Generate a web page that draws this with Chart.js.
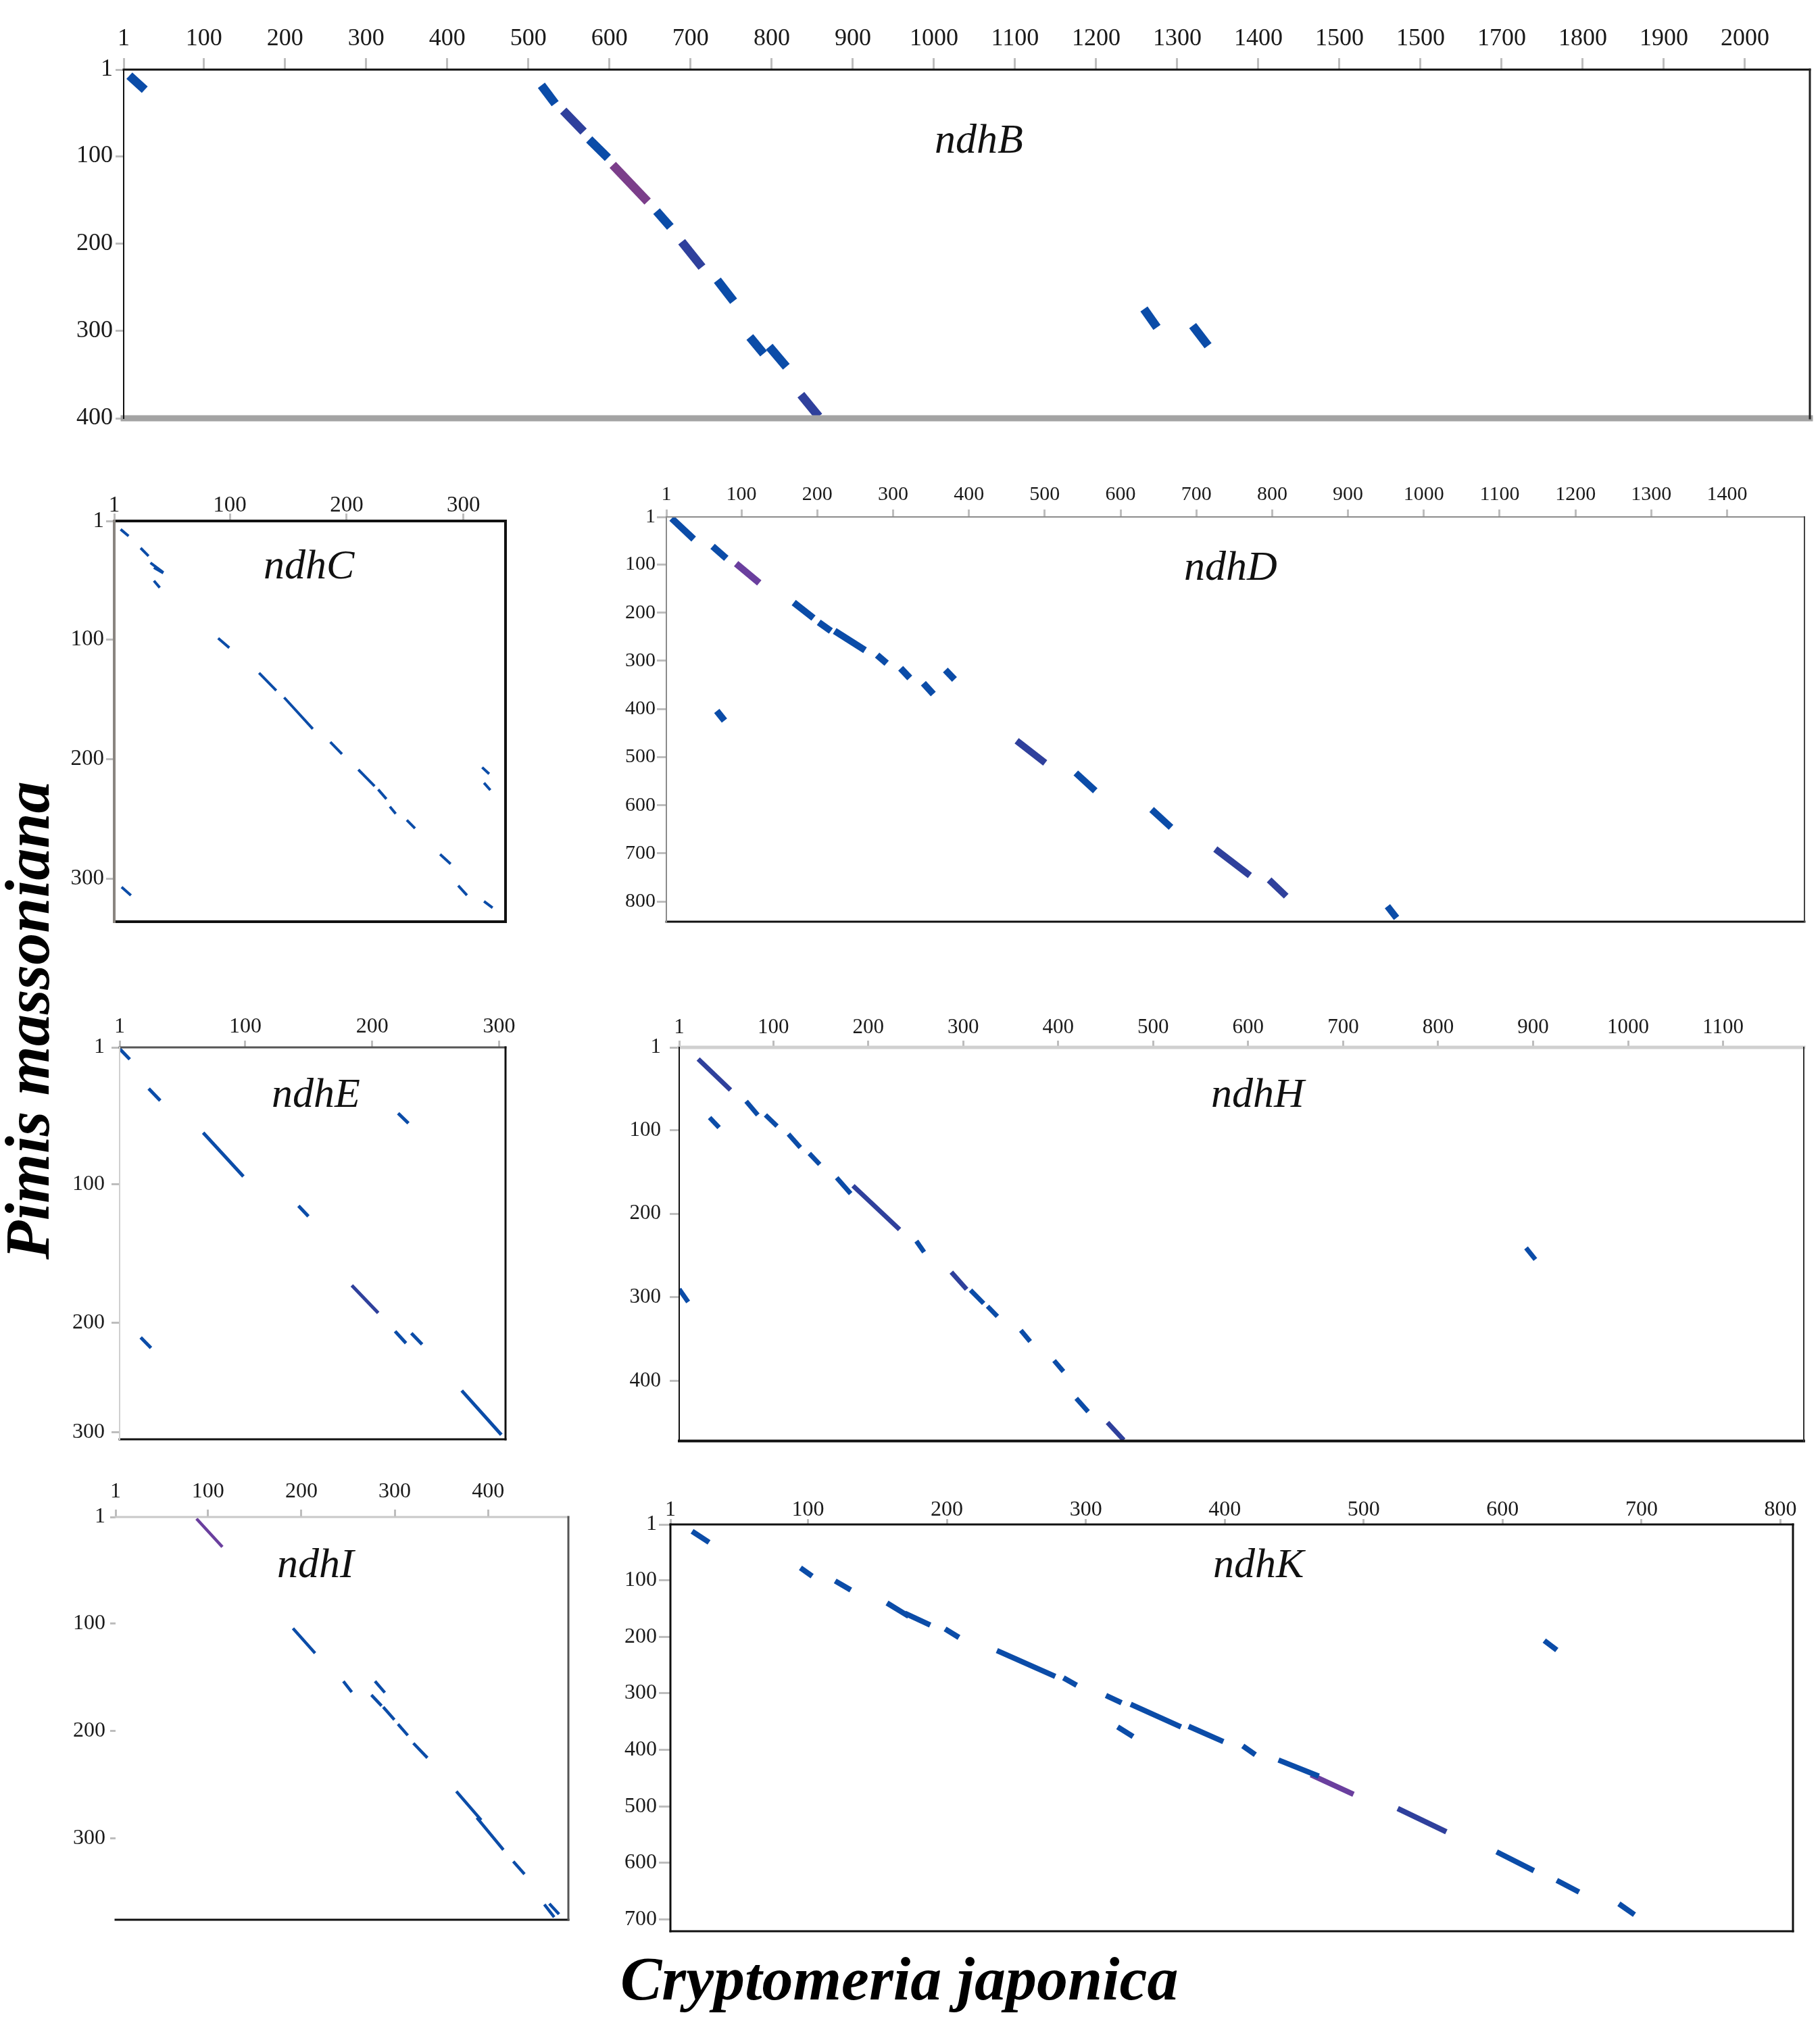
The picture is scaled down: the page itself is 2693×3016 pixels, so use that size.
<!DOCTYPE html>
<html>
<head>
<meta charset="utf-8">
<title>ndh dot plots</title>
<script src="https://cdn.jsdelivr.net/npm/chart.js@4.4.1/dist/chart.umd.min.js"></script>
<style>
  html, body { margin: 0; padding: 0; background: #fff; }
  body { width: 2693px; height: 3016px; position: relative; overflow: hidden; }
  .panel { position: absolute; }
  .gene { position: absolute; font: italic 62px/1 'Liberation Serif', 'Times New Roman', serif; color: #111; white-space: nowrap; }
  .axis-title { position: absolute; font: italic bold 92px/1 'Liberation Serif', 'Times New Roman', serif; color: #000; white-space: nowrap; }
</style>
</head>
<body>
<div class="axis-title" id="ytitle" style="left:-7px; top:1864px; font-size:94px; transform-origin:0 0; transform:rotate(-90deg);">Pimis massoniana</div>
<div class="axis-title" id="xtitle" style="left:918px; top:2882px;">Cryptomeria japonica</div>

<script>
// 구간 데이터: [x시작, y시작, x끝, y끝, 종류]  (x = Cryptomeria japonica, y = Pinus massoniana)
// 종류: b = 파랑, i = 남색, p/m = 보라

const ndhBSegs = [
  [8, 8, 27, 24, 'b'], [516, 19, 533, 40, 'b'], [543, 48, 568, 72, 'i'],
  [575, 81, 598, 102, 'b'], [604, 110, 647, 152, 'm'], [658, 163, 675, 181, 'b'],
  [689, 198, 714, 227, 'i'], [733, 242, 753, 266, 'b'], [773, 307, 790, 326, 'b'],
  [797, 318, 818, 341, 'b'], [836, 373, 858, 398, 'i'],
  [1259, 275, 1275, 296, 'b'], [1319, 294, 1338, 317, 'b']
];
const ndhBXTicks = [1, 100, 200, 300, 400, 500, 600, 700, 800, 900, 1000, 1100, 1200, 1300, 1400, 1500, 1600, 1700, 1800, 1900, 2000];
const ndhBXLabels = ['1', '100', '200', '300', '400', '500', '600', '700', '800', '900', '1000', '1100', '1200', '1300', '1400', '1500', '1500', '1700', '1800', '1900', '2000'];
const ndhBYTicks = [1, 100, 200, 300, 400];
const ndhBYLabels = ['1', '100', '200', '300', '400'];

const ndhCSegs = [
  [6.5, 8, 13.3, 13.6], [23.6, 23.6, 30.4, 30.3], [32, 36, 43, 44], [35, 40, 43, 44.5],
  [35, 51, 40, 56.7], [90, 99, 99.5, 107], [125, 128, 139.7, 142.7],
  [146.5, 148.6, 171, 174.8], [186, 185.8, 196, 195.8], [210, 208.9, 223.9, 222.7],
  [227, 225.5, 234, 233.4], [237, 239.8, 242, 245.8], [251.5, 251, 258.5, 258],
  [280, 279.6, 289, 287.7], [295.5, 305.8, 303, 313.9], [317.6, 319, 324.9, 324.3],
  [316, 207, 322, 212.4], [317.6, 220, 323, 226], [7.3, 307, 15.3, 313.9]
];
const ndhCXTicks = [1, 100, 200, 300];
const ndhCXLabels = ['1', '100', '200', '300'];
const ndhCYTicks = [1, 100, 200, 300];
const ndhCYLabels = ['1', '100', '200', '300'];

const ndhDSegs = [
  [8, 4, 37, 47, 'b'], [62, 62, 80, 87, 'b'], [93, 98, 123.5, 138, 'p'],
  [169, 179, 195, 211, 'b'], [202, 220, 218, 238, 'b'], [223, 238, 263, 278, 'b'],
  [279, 288, 291.5, 305, 'b'], [310, 315.5, 322, 335.5, 'b'], [340, 346.5, 353, 369, 'b'],
  [369, 319, 381, 338.6, 'b'], [67.5, 404, 77.6, 424, 'b'], [463, 466, 500.6, 512, 'i'],
  [541, 533, 566.6, 570, 'b'], [641, 609, 666.6, 646, 'b'], [725, 691, 770.6, 746, 'i'],
  [796, 755, 818.5, 789, 'i'], [952, 810, 964, 834, 'b']
];
const ndhDXTicks = [1, 100, 200, 300, 400, 500, 600, 700, 800, 900, 1000, 1100, 1200, 1300, 1400];
const ndhDXLabels = ['1', '100', '200', '300', '400', '500', '600', '700', '800', '900', '1000', '1100', '1200', '1300', '1400'];
const ndhDYTicks = [1, 100, 200, 300, 400, 500, 600, 700, 800];
const ndhDYLabels = ['1', '100', '200', '300', '400', '500', '600', '700', '800'];

const ndhESegs = [
  [1, 2, 9, 9.6, 'b'], [23.9, 30.8, 33, 39.4, 'b'], [66.8, 62.6, 98.5, 94.2, 'b'],
  [220.4, 48.6, 228.5, 55.8, 'b'], [141.9, 115.4, 149.7, 123, 'b'],
  [183.9, 172.9, 204.7, 192.8, 'i'], [218, 206, 226.6, 214.6, 'b'],
  [230.8, 207.4, 239.3, 215.4, 'b'], [17.6, 210.4, 25.7, 218, 'b'],
  [270.5, 248.8, 301.7, 280.7, 'b']
];
const ndhEXTicks = [1, 100, 200, 300];
const ndhEXLabels = ['1', '100', '200', '300'];
const ndhEYTicks = [1, 100, 200, 279];
const ndhEYLabels = ['1', '100', '200', '300'];

const ndhHSegs = [
  [21, 15, 55, 52, 'i'], [71.5, 65.5, 83.7, 81.8, 'b'], [91.8, 81.8, 104, 95.3, 'b'],
  [33, 85, 43, 97, 'b'], [116, 104.8, 128.5, 120.8, 'b'], [138, 128, 148.9, 141, 'b'],
  [166.8, 157, 181.5, 176, 'b'], [184, 166.6, 233, 219, 'i'], [250.7, 232.8, 258.8, 246, 'b'],
  [287.5, 270, 303.6, 290.5, 'i'], [307.7, 291.5, 321.5, 307.4, 'b'], [325.6, 310.8, 336, 323, 'b'],
  [360.7, 339.6, 370.5, 353, 'b'], [395.7, 375.9, 405.5, 388.9, 'b'], [419, 421, 431.5, 437, 'b'],
  [451.9, 450, 469, 471, 'i'], [892.6, 241, 902.4, 254.8, 'b'], [1, 290.4, 10.4, 305.7, 'b']
];
const ndhHXTicks = [1, 100, 200, 300, 400, 500, 600, 700, 800, 900, 1000, 1100];
const ndhHXLabels = ['1', '100', '200', '300', '400', '500', '600', '700', '800', '900', '1000', '1100'];
const ndhHYTicks = [1, 100, 200, 300, 400];
const ndhHYLabels = ['1', '100', '200', '300', '400'];

const ndhISegs = [
  [87.7, 2.6, 115.4, 28.8, 'p'], [191, 104.7, 214.7, 127.8, 'b'], [245, 153.9, 254, 164, 'b'],
  [278.9, 153.9, 289.4, 164.5, 'b'], [275, 166.7, 285.9, 176.8, 'b'], [287.7, 178, 299.6, 189.8, 'b'],
  [303.5, 193.9, 314, 204.3, 'b'], [320, 211.6, 335, 225.2, 'b'], [366, 256.5, 392.6, 283.2, 'b'],
  [388, 281, 416.4, 310.9, 'b'], [427, 321.8, 439, 333.5, 'b'], [460.3, 361.8, 470.8, 373.5, 'b'],
  [465.6, 361, 476, 370.8, 'b']
];
const ndhIXTicks = [1, 100, 200, 300, 400];
const ndhIXLabels = ['1', '100', '200', '300', '400'];
const ndhIYTicks = [1, 100, 200, 300];
const ndhIYLabels = ['1', '100', '200', '300'];

const ndhKSegs = [
  [16.6, 13, 28.8, 32.7, 'b'], [94.6, 77.9, 103, 92.4, 'b'], [119.6, 101, 130.8, 117, 'b'],
  [156.9, 140, 172.5, 163.5, 'b'], [169.7, 158, 188, 179, 'b'], [198.7, 185.9, 208.7, 201, 'b'],
  [236, 224.3, 278, 270, 'b'], [283.9, 272.6, 293.4, 285.6, 'b'], [314.5, 303.7, 325.7, 316.7, 'b'],
  [332.3, 319.3, 368.5, 359.3, 'b'], [374, 358.3, 399, 385.3, 'b'], [322.9, 359.3, 334, 376.5, 'b'],
  [413, 393, 422, 408.6, 'b'], [438.7, 418, 467.7, 446.6, 'b'], [462, 444, 492.7, 478.7, 'p'],
  [524.5, 503.7, 559.5, 545, 'i'], [595.7, 580.5, 622.5, 613.8, 'b'], [639, 630.9, 655, 651.7, 'b'],
  [683.7, 672.4, 694.9, 691.7, 'b'], [630, 206.6, 639, 223.3, 'b']
];
const ndhKXTicks = [1, 100, 200, 300, 400, 500, 600, 700, 800];
const ndhKXLabels = ['1', '100', '200', '300', '400', '500', '600', '700', '800'];
const ndhKYTicks = [1, 100, 200, 300, 400, 500, 600, 700];
const ndhKYLabels = ['1', '100', '200', '300', '400', '500', '600', '700'];

const COLORS = { b: '#0b4ca8', i: '#2f409c', p: '#6a3f9e', m: '#7b3e8a' };
const SERIF = "'Liberation Serif', 'Times New Roman', serif";
const YW = 100;   // y축 영역 폭
const XH = 90;    // x축 영역 높이
const PAD_R = 40;
const PAD_B = 30;

// 상자 테두리 (변마다 색/두께가 다름)
const framePlugin = {
  id: 'frame',
  afterDraw(chart, args, opts) {
    const { ctx, chartArea: a } = chart;
    ctx.save();
    ctx.lineCap = 'square';
    const sides = {
      top: [a.left, a.top, a.right, a.top],
      bottom: [a.left, a.bottom, a.right, a.bottom],
      left: [a.left, a.top, a.left, a.bottom],
      right: [a.right, a.top, a.right, a.bottom]
    };
    Object.keys(sides).forEach(k => {
      const s = opts[k];
      if (!s) return;
      const p = sides[k];
      ctx.strokeStyle = s[0];
      ctx.lineWidth = s[1];
      ctx.beginPath();
      ctx.moveTo(p[0], p[1]);
      ctx.lineTo(p[2], p[3]);
      ctx.stroke();
    });
    ctx.restore();
  }
};

function makeAxis(pos, max, vals, labels, reverse, size, tick) {
  return {
    type: 'linear',
    position: pos,
    min: 1,
    max: max,
    reverse: reverse,
    afterBuildTicks: s => { s.ticks = vals.map(v => ({ value: v })); },
    afterFit: s => {
      if (pos === 'top') s.height = XH;
      else s.width = YW;
    },
    ticks: {
      autoSkip: false,
      maxRotation: 0,
      minRotation: 0,
      padding: tick.pad,
      color: '#1a1a1a',
      font: { family: SERIF, size: size },
      callback: v => labels[vals.indexOf(v)]
    },
    grid: {
      drawOnChartArea: false,
      drawTicks: true,
      tickLength: tick.len,
      tickColor: '#bdbdbd',
      tickWidth: 3,
      color: '#bdbdbd'
    },
    border: { display: false }
  };
}

function makePanel(p) {
  const [l, t, r, b] = p.box;
  const div = document.createElement('div');
  div.className = 'panel';
  div.style.left = (l - YW) + 'px';
  div.style.top = (t - XH) + 'px';
  div.style.width = (r - l + YW + PAD_R) + 'px';
  div.style.height = (b - t + XH + PAD_B) + 'px';
  const canvas = document.createElement('canvas');
  div.appendChild(canvas);
  document.body.appendChild(div);

  const datasets = p.segs.map(s => ({
    data: [{ x: s[0], y: s[1] }, { x: s[2], y: s[3] }],
    showLine: true,
    borderColor: COLORS[s[4] || 'b'],
    borderWidth: p.lw,
    borderCapStyle: 'butt',
    pointRadius: 0,
    fill: false
  }));

  new Chart(canvas, {
    type: 'scatter',
    data: { datasets },
    options: {
      responsive: true,
      maintainAspectRatio: false,
      animation: false,
      events: [],
      layout: { padding: { left: 0, top: 0, right: PAD_R, bottom: PAD_B } },
      plugins: {
        legend: { display: false },
        tooltip: { enabled: false },
        frame: p.frame
      },
      scales: {
        x: makeAxis('top', p.xMax, p.xTicks, p.xLabels, false, p.font, p.xTick),
        y: makeAxis('left', p.yMax, p.yTicks, p.yLabels, true, p.font, p.yTick)
      }
    },
    plugins: [framePlugin]
  });

  // 유전자 이름 (기준선 위치 지정)
  const lab = document.createElement('div');
  lab.className = 'gene';
  lab.textContent = p.name;
  lab.style.left = p.label[0] + 'px';
  lab.style.top = (p.label[1] - 52) + 'px';
  document.body.appendChild(lab);
}

const K = '#111';
const panels = [
  { name: 'ndhB', box: [183, 103, 2678, 619], xMax: 2080, yMax: 400,
    xTicks: ndhBXTicks, xLabels: ndhBXLabels, yTicks: ndhBYTicks, yLabels: ndhBYLabels,
    segs: ndhBSegs, lw: 13, font: 36, xTick: { len: 17, pad: 7 }, yTick: { len: 12, pad: 4 },
    label: [1383, 226],
    frame: { top: [K, 3], right: ['#222', 3], bottom: ['#a3a3a3', 9], left: [K, 2] } },
  { name: 'ndhC', box: [169, 771, 748, 1364], xMax: 336, yMax: 336,
    xTicks: ndhCXTicks, xLabels: ndhCXLabels, yTicks: ndhCYTicks, yLabels: ndhCYLabels,
    segs: ndhCSegs, lw: 4, font: 33, xTick: { len: 11, pad: -8 }, yTick: { len: 12, pad: 3 },
    label: [390, 856],
    frame: { top: [K, 4], right: [K, 4], bottom: [K, 4], left: ['#8a8580', 4] } },
  { name: 'ndhD', box: [986, 765, 2670, 1364], xMax: 1502, yMax: 842,
    xTicks: ndhDXTicks, xLabels: ndhDXLabels, yTicks: ndhDYTicks, yLabels: ndhDYLabels,
    segs: ndhDSegs, lw: 10, font: 30, xTick: { len: 11, pad: 4 }, yTick: { len: 14, pad: 2 },
    label: [1752, 858],
    frame: { top: ['#8c8c8c', 2], right: ['#444', 2], bottom: [K, 3], left: ['#8c8c8c', 2] } },
  { name: 'ndhE', box: [177, 1550, 748, 2130], xMax: 305, yMax: 284,
    xTicks: ndhEXTicks, xLabels: ndhEXLabels, yTicks: ndhEYTicks, yLabels: ndhEYLabels,
    segs: ndhESegs, lw: 5, font: 32, xTick: { len: 10, pad: 1 }, yTick: { len: 12, pad: 10 },
    label: [402, 1638],
    frame: { top: ['#555', 3], right: [K, 3], bottom: [K, 3], left: ['#cfcfcf', 2] } },
  { name: 'ndhH', box: [1005, 1550, 2669, 2134], xMax: 1185, yMax: 472,
    xTicks: ndhHXTicks, xLabels: ndhHXLabels, yTicks: ndhHYTicks, yLabels: ndhHYLabels,
    segs: ndhHSegs, lw: 7, font: 31, xTick: { len: 10, pad: 1 }, yTick: { len: 14, pad: 13 },
    label: [1792, 1638],
    frame: { top: ['#d0d0d0', 5], right: ['#333', 2], bottom: [K, 4], left: [K, 2] } },
  { name: 'ndhI', box: [171, 2245, 841, 2841], xMax: 486, yMax: 376,
    xTicks: ndhIXTicks, xLabels: ndhIXLabels, yTicks: ndhIYTicks, yLabels: ndhIYLabels,
    segs: ndhISegs, lw: 4.5, font: 32, xTick: { len: 11, pad: 7 }, yTick: { len: 8, pad: 7 },
    label: [410, 2334],
    frame: { top: ['#c8c8c8', 3], right: ['#555', 3], bottom: [K, 3] } },
  { name: 'ndhK', box: [992, 2256, 2653, 2858], xMax: 809, yMax: 721,
    xTicks: ndhKXTicks, xLabels: ndhKXLabels, yTicks: ndhKYTicks, yLabels: ndhKYLabels,
    segs: ndhKSegs, lw: 8, font: 32, xTick: { len: 8, pad: -6 }, yTick: { len: 17, pad: 3 },
    label: [1795, 2334],
    frame: { top: [K, 3], right: [K, 3], bottom: [K, 3], left: [K, 3] } }
];

panels.forEach(makePanel);
</script>
</body>
</html>
